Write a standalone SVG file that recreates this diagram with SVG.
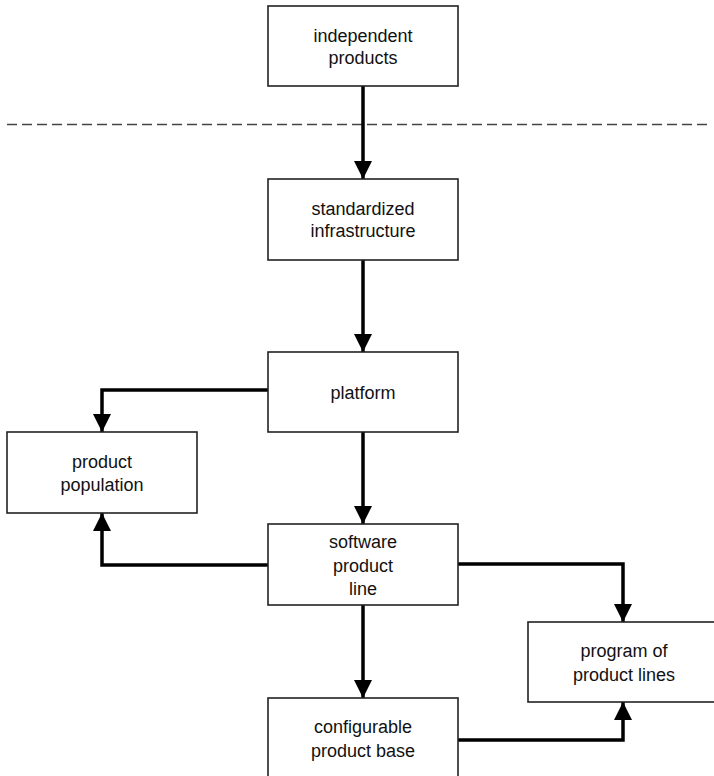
<svg xmlns="http://www.w3.org/2000/svg" width="714" height="776" viewBox="0 0 714 776">
<defs>
<marker id="ah" viewBox="0 0 18 18" refX="18" refY="9" markerWidth="18" markerHeight="18" markerUnits="userSpaceOnUse" orient="auto">
<path d="M0,0 L18,9 L0,18 Z" fill="#000"/>
</marker>
<style>
.box{fill:#fff;stroke:#222;stroke-width:1.6}
.t{font-family:"Liberation Sans",Arial,sans-serif;font-size:18px;fill:#111;text-anchor:middle}
.c{fill:none;stroke:#000;stroke-width:3.5;marker-end:url(#ah)}
</style>
</defs>
<rect width="714" height="776" fill="#fff"/>
<line x1="7" y1="124.5" x2="710" y2="124.5" stroke="#444" stroke-width="1.4" stroke-dasharray="10 5"/>
<g id="connectors">
<path class="c" d="M363,86 V179"/>
<path class="c" d="M363,260 V352"/>
<path class="c" d="M268,390 H102 V432"/>
<path class="c" d="M363,432 V524"/>
<path class="c" d="M268,565 H102 V513"/>
<path class="c" d="M457,564 H623 V622"/>
<path class="c" d="M363,605 V698"/>
<path class="c" d="M457,740 H623 V702"/>
</g>
<g id="independent-products">
<rect class="box" x="268" y="6" width="190" height="80"/>
<text class="t" x="363" y="42">independent</text>
<text class="t" x="363" y="64">products</text>
</g>
<g id="standardized-infrastructure">
<rect class="box" x="268" y="179" width="190" height="81"/>
<text class="t" x="363" y="215">standardized</text>
<text class="t" x="363" y="237">infrastructure</text>
</g>
<g id="platform">
<rect class="box" x="268" y="352" width="190" height="80"/>
<text class="t" x="363" y="399">platform</text>
</g>
<g id="product-population">
<rect class="box" x="7" y="432" width="190" height="81"/>
<text class="t" x="102" y="468">product</text>
<text class="t" x="102" y="491">population</text>
</g>
<g id="software-product-line">
<rect class="box" x="268" y="524" width="190" height="81"/>
<text class="t" x="363" y="548">software</text>
<text class="t" x="363" y="571.5">product</text>
<text class="t" x="363" y="595">line</text>
</g>
<g id="program-of-product-lines">
<rect class="box" x="528" y="622" width="192" height="80"/>
<text class="t" x="624" y="657">program of</text>
<text class="t" x="624" y="681">product lines</text>
</g>
<g id="configurable-product-base">
<rect class="box" x="268" y="698" width="190" height="90"/>
<text class="t" x="363" y="733">configurable</text>
<text class="t" x="363" y="757">product base</text>
</g>
</svg>
